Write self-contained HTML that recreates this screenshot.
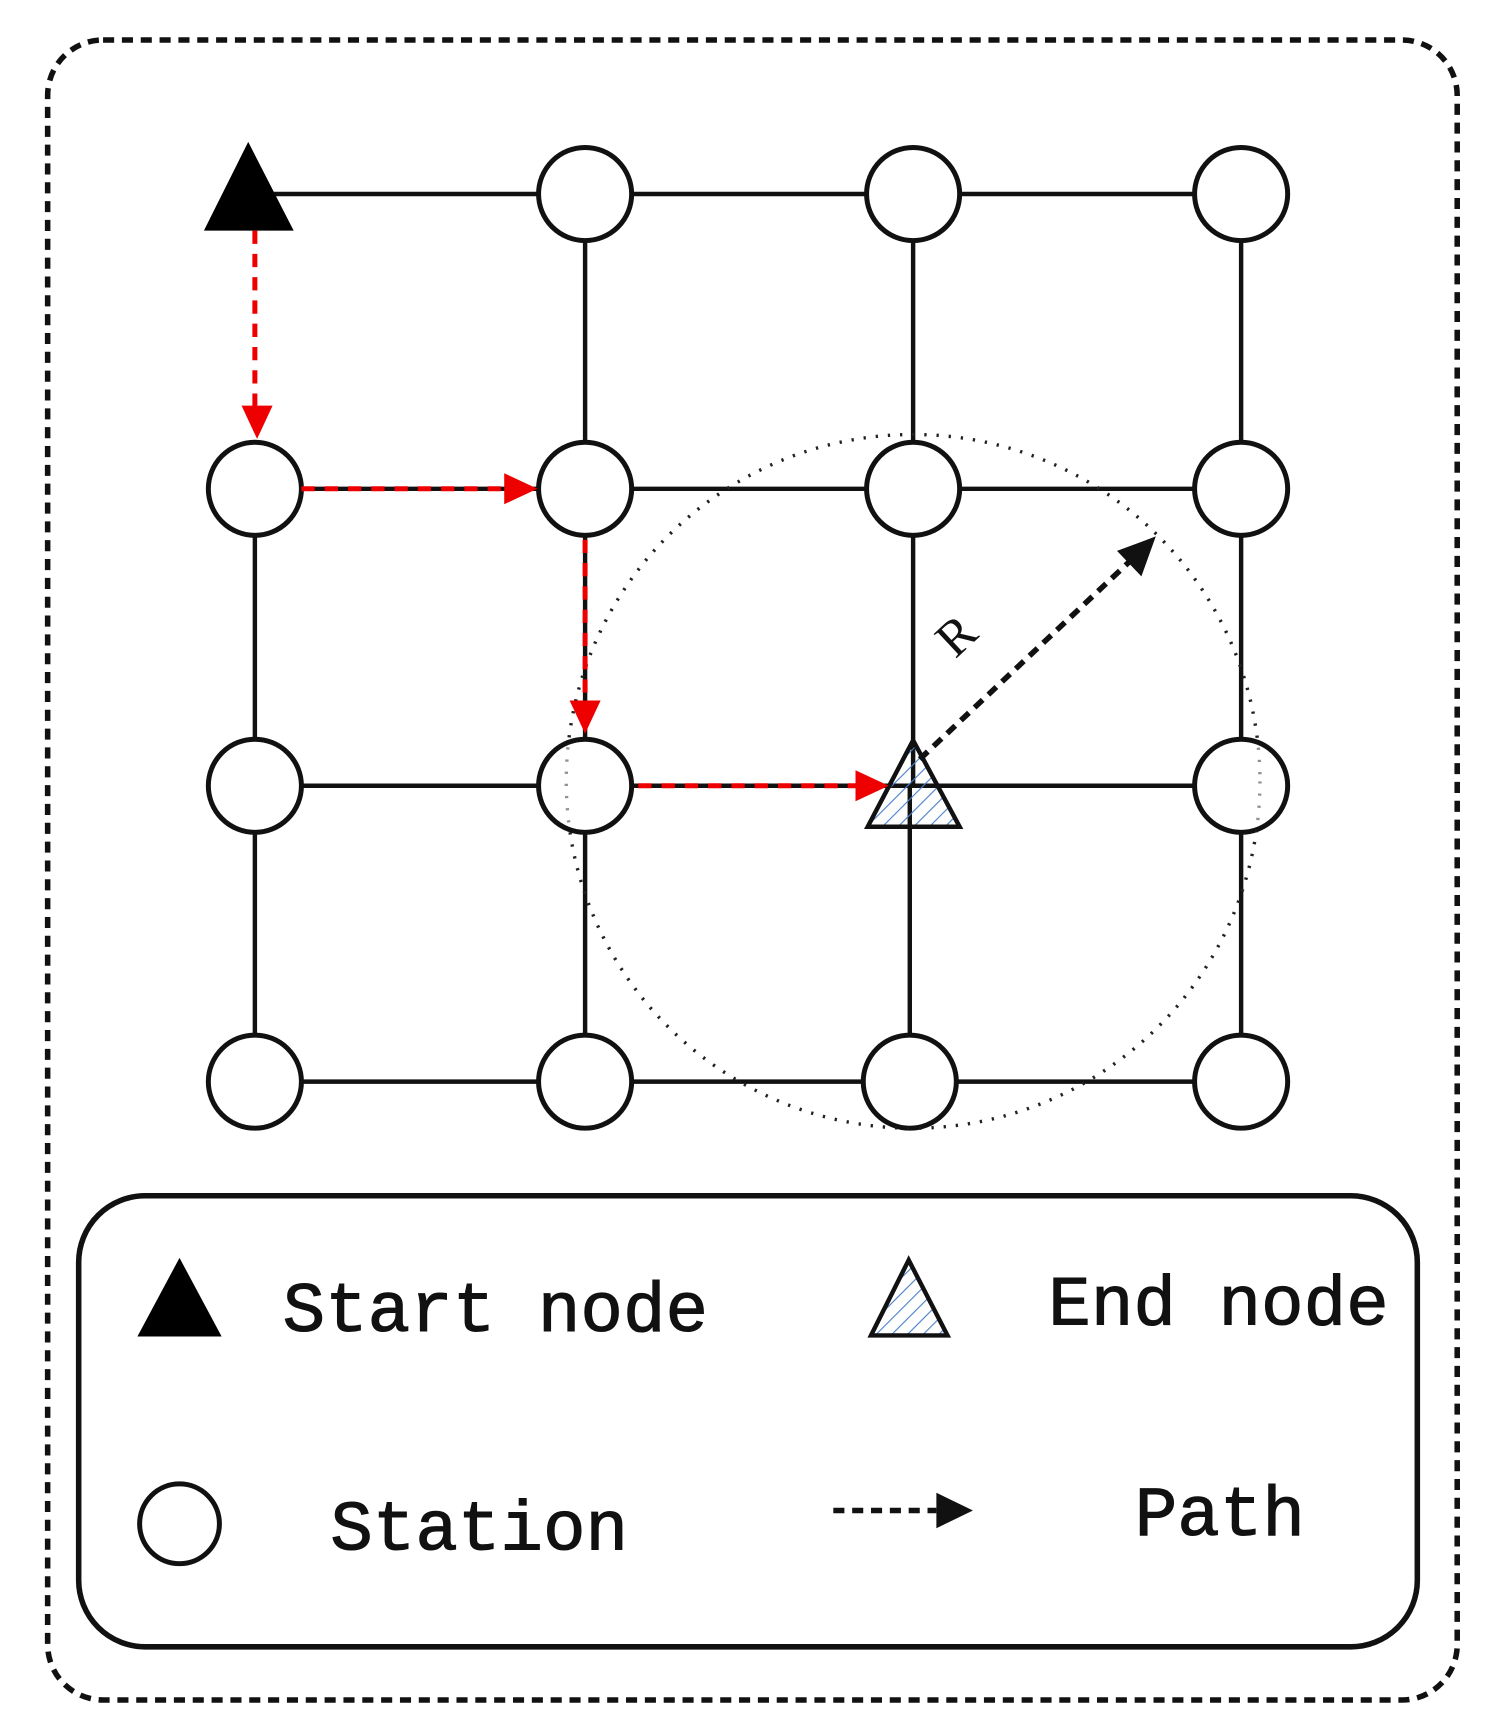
<!DOCTYPE html>
<html><head><meta charset="utf-8"><style>html,body{margin:0;padding:0;background:#fff}svg{display:block}</style></head>
<body>
<svg width="1496" height="1730" viewBox="0 0 1350 1561" xmlns="http://www.w3.org/2000/svg">
<defs>
<pattern id="hatch" width="10" height="10" patternUnits="userSpaceOnUse" patternTransform="rotate(45)"><line x1="0" y1="0" x2="0" y2="10" stroke="#4a7fc8" stroke-width="2"/></pattern>
</defs>
<rect x="43" y="36" width="1272" height="1498" rx="50" fill="none" stroke="#111" stroke-width="5" stroke-dasharray="10,7"/>
<g stroke="#111" stroke-width="4" fill="none">
<line x1="230" y1="175" x2="1120" y2="175"/>
<line x1="230" y1="441" x2="1120" y2="441"/>
<line x1="230" y1="709" x2="1120" y2="709"/>
<line x1="230" y1="976" x2="1120" y2="976"/>
<line x1="230" y1="441" x2="230" y2="976"/>
<line x1="528" y1="175" x2="528" y2="976"/>
<line x1="824" y1="175" x2="824" y2="709"/>
<line x1="821" y1="709" x2="821" y2="976"/>
<line x1="1120" y1="175" x2="1120" y2="976"/>
</g>
<circle cx="824" cy="705" r="313" fill="none" stroke="#222" stroke-width="3" stroke-dasharray="2,9"/>
<g stroke="#111" stroke-width="4.5" fill="#fff">
<circle cx="528" cy="175" r="42"/><circle cx="824" cy="175" r="42"/><circle cx="1120" cy="175" r="42"/>
<circle cx="230" cy="441" r="42"/><circle cx="528" cy="441" r="42"/><circle cx="824" cy="441" r="42"/><circle cx="1120" cy="441" r="42"/>
<circle cx="230" cy="709" r="42"/><circle cx="528" cy="709" r="42"/><circle cx="1120" cy="709" r="42"/>
<circle cx="230" cy="976" r="42"/><circle cx="528" cy="976" r="42"/><circle cx="821" cy="976" r="42"/><circle cx="1120" cy="976" r="42"/>
</g>
<circle cx="824" cy="705" r="313" fill="none" stroke="#222" stroke-width="3" stroke-dasharray="2,9" opacity="0.5"/>
<polygon points="224,128 184,208 265,208" fill="#000"/>
<polygon points="824,668 783,746 866,746" fill="url(#hatch)" stroke="#111" stroke-width="4"/>
<g stroke="#e00" stroke-width="4.5" stroke-dasharray="12,9" fill="none">
<line x1="230" y1="208" x2="230" y2="370"/>
<line x1="272" y1="441" x2="458" y2="441"/>
<line x1="528" y1="487" x2="528" y2="636"/>
<line x1="576" y1="709" x2="776" y2="709"/>
</g>
<polygon points="232,396 218,366 246,366" fill="#e00"/>
<polygon points="485,441 455,427 455,455" fill="#e00"/>
<polygon points="528,662 514,632 542,632" fill="#e00"/>
<polygon points="802,709 772,695 772,723" fill="#e00"/>
<line x1="830" y1="685" x2="1020" y2="506" stroke="#111" stroke-width="5" stroke-dasharray="10,7"/>
<polygon points="1043,484 1030,520 1008,497" fill="#111"/>
<text x="0" y="0" transform="translate(862,595) rotate(-43)" font-family="Liberation Serif, serif" font-size="46" fill="#111">R</text>
<rect x="71" y="1079" width="1208" height="407" rx="60" fill="none" stroke="#111" stroke-width="5"/>
<polygon points="162,1135 124,1206 200,1206" fill="#000"/>
<polygon points="820,1137 786,1205 855,1205" fill="url(#hatch)" stroke="#111" stroke-width="4"/>
<circle cx="162" cy="1375" r="36" fill="#fff" stroke="#111" stroke-width="4.5"/>
<line x1="752" y1="1363" x2="845" y2="1363" stroke="#111" stroke-width="5" stroke-dasharray="10,7"/>
<polygon points="878,1363 845,1347 845,1379" fill="#111"/>
<g font-family="Liberation Mono, monospace" font-size="64" fill="#111" stroke="#111" stroke-width="1">
<text x="255" y="1201">Start node</text>
<text x="946" y="1195">End node</text>
<text x="298" y="1398">Station</text>
<text x="1024" y="1385">Path</text>
</g>
</svg>
</body></html>
